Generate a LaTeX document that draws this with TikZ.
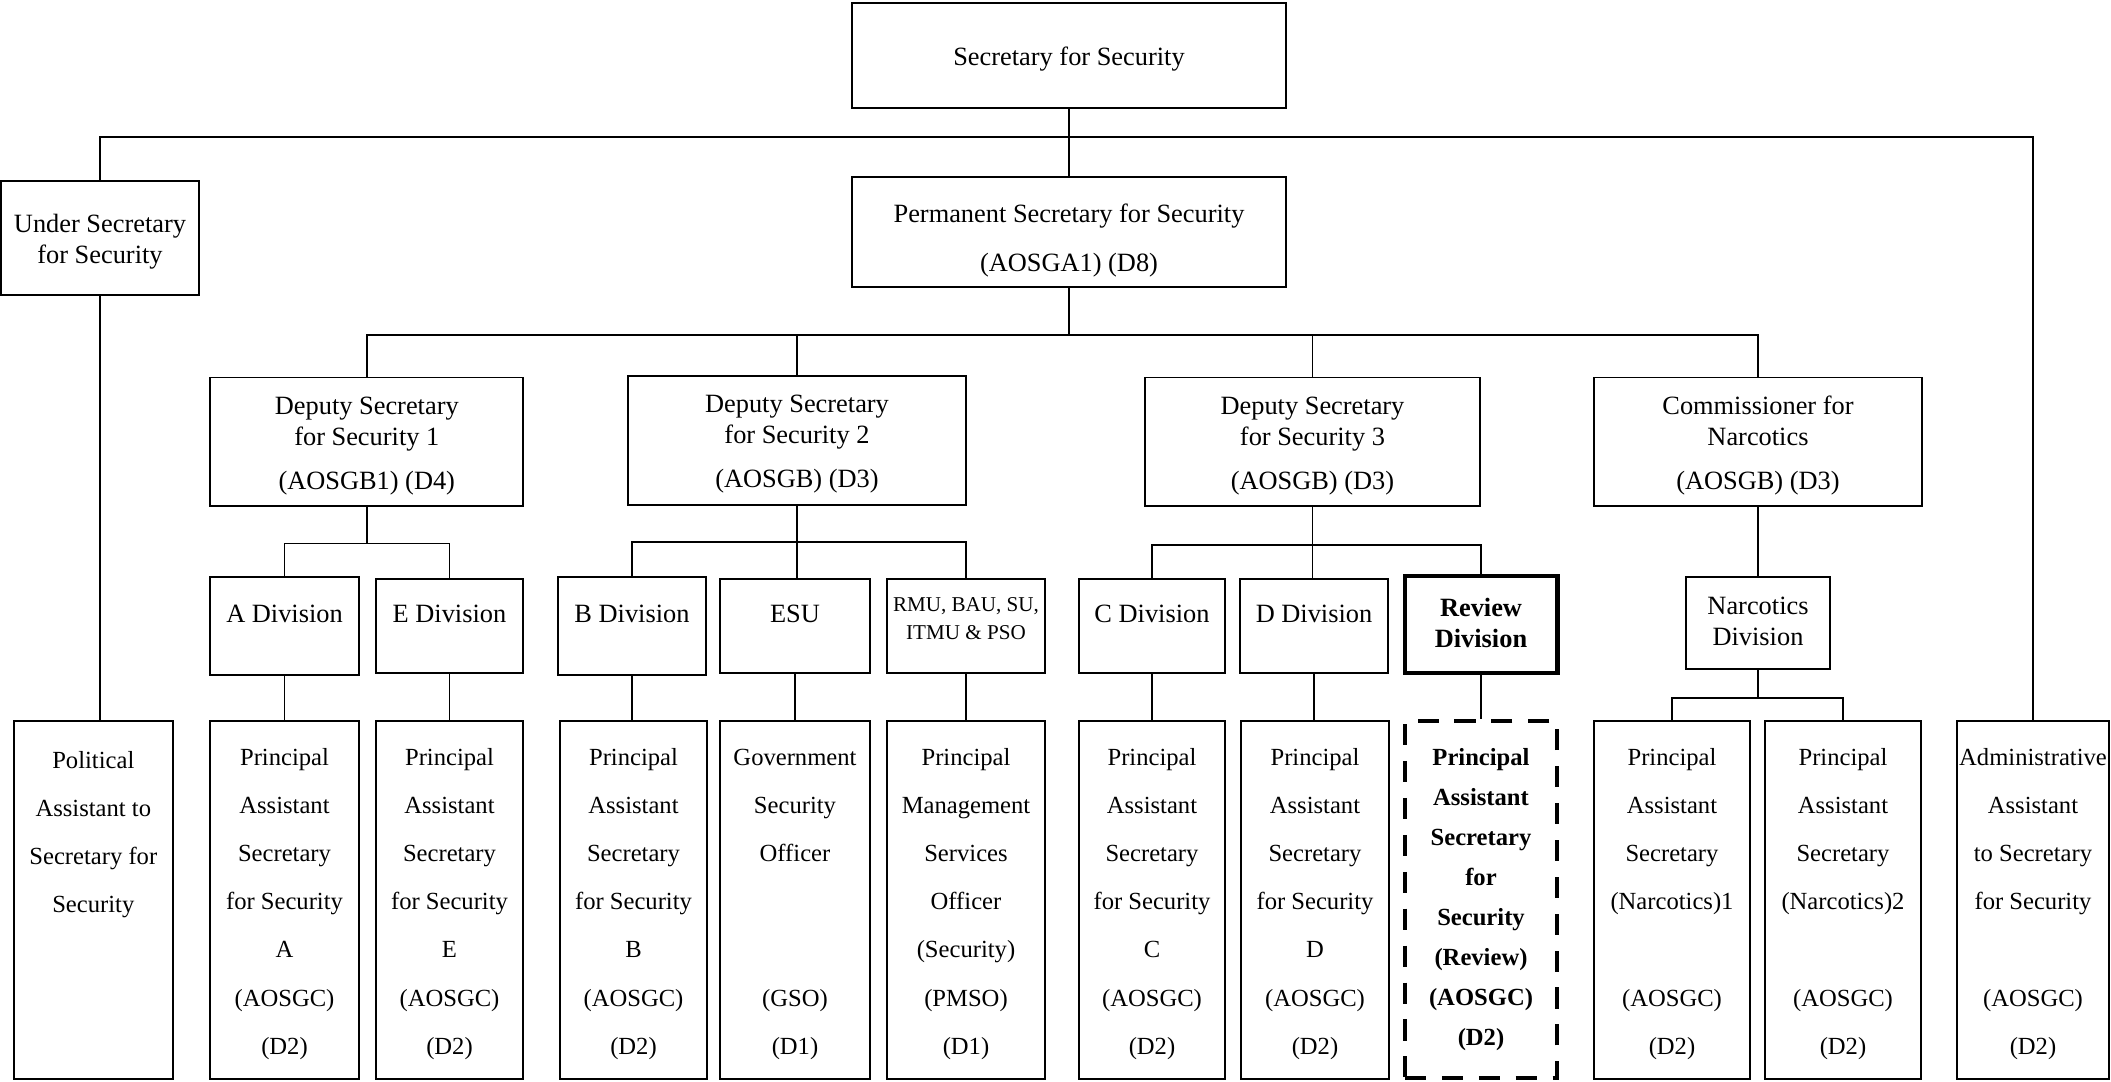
\documentclass[tikz,border=0pt]{standalone}
\usepackage{fontspec}
\setmainfont{Liberation Serif}
\usetikzlibrary{calc}
\tikzset{
  box/.style={draw, line width=0.55pt, inner sep=0pt, align=center, font=\fontsize{7.5}{8.8}\selectfont},
  post/.style={draw, line width=0.55pt, inner sep=0pt, align=center, minimum height=35.75mm, font=\fontsize{7}{13.66}\selectfont},
  divone/.style={text height=5.3pt, text depth=7.2pt},
  link/.style={line width=0.55pt},
}
\newcommand{\tup}[1][7.2pt]{\rule{0pt}{#1}} %文字を下げる支柱
\newcommand{\tdn}[1]{\rule[-#1]{0pt}{#1}} %文字を上げる支柱
\newcommand{\busline}[4]{
\draw[link] (#1.south) -- (#1.south |- #2); %親から横線まで
\draw[link] (#3.north) |- (#2 -| #4.north) -- (#4.north); %横線と両端の子
}

\begin{document}
\begin{tikzpicture}[x=0.01cm, y=-0.01cm]
\useasboundingbox (0,0) rectangle (2111,1082);

%最上段
\node[box, minimum width=43.4mm, minimum height=10.5mm] (sec) at (1069,55.5) {\tup Secretary for Security};
\node[box, minimum width=43.4mm, minimum height=11mm] (perm) at (1069,232) {\tup[10.3pt]Permanent Secretary for Security\\[5.1pt](AOSGA1) (D8)};
\node[box, minimum width=19.7mm, minimum height=11.4mm] (under) at (100,238) {\tup Under Secretary\\for Security};

%副長官
\node[box, minimum width=31.25mm, minimum height=12.85mm] (ds1) at (366.8,441.8) {\tup Deputy Secretary\\for Security 1\\[3.7pt](AOSGB1) (D4)};
\node[box, minimum width=33.7mm, minimum height=12.9mm] (ds2) at (797,440.5) {\tup Deputy Secretary\\for Security 2\\[3.7pt](AOSGB) (D3)};
\node[box, minimum width=33.5mm, minimum height=12.85mm] (ds3) at (1312.5,441.8) {\tup Deputy Secretary\\for Security 3\\[3.7pt](AOSGB) (D3)};
\node[box, minimum width=32.85mm, minimum height=12.85mm] (comm) at (1758,441.8) {\tup Commissioner for\\Narcotics\\[3.7pt](AOSGB) (D3)};

%部門
\node[box, divone, minimum width=14.8mm, minimum height=9.8mm] (adiv) at (284.5,626) {A Division};
\node[box, divone, minimum width=14.7mm, minimum height=9.4mm] (ediv) at (449.5,626) {E Division};
\node[box, divone, minimum width=14.8mm, minimum height=9.8mm] (bdiv) at (632,626) {B Division};
\node[box, divone, minimum width=14.95mm, minimum height=9.4mm] (esu) at (795,626) {ESU};
\node[box, minimum width=15.75mm, minimum height=9.4mm, font=\fontsize{6}{7.85}\selectfont] (rmu) at (966,626) {RMU, BAU, SU,\\ITMU \& PSO\tdn{4.3pt}};
\node[box, divone, minimum width=14.65mm, minimum height=9.4mm] (cdiv) at (1152,626) {C Division};
\node[box, divone, minimum width=14.75mm, minimum height=9.4mm] (ddiv) at (1314,626) {D Division};
\node[box, line width=1.4pt, minimum width=15.2mm, minimum height=9.7mm, font=\fontsize{7.5}{8.8}\selectfont\bfseries] (rdiv) at (1481,624.5) {Review\\Division\tdn{1.2pt}};
\node[box, minimum width=14.35mm, minimum height=9.15mm] (ndiv) at (1758,623) {Narcotics\\Division\tdn{1.2pt}};

%最下段
\node[post, minimum width=15.86mm] (polit) at (93.3,900.25) {\tup[7pt]Political\\Assistant to\\Secretary for\\Security\\\mbox{}\\\mbox{}\\\mbox{}};
\node[post, minimum width=14.8mm] (pasa) at (284.5,900.25) {\tup[7pt]Principal\\Assistant\\Secretary\\for Security\\A\\(AOSGC)\\(D2)};
\node[post, minimum width=14.7mm] (pase) at (449.5,900.25) {\tup[7pt]Principal\\Assistant\\Secretary\\for Security\\E\\(AOSGC)\\(D2)};
\node[post, minimum width=14.7mm] (pasb) at (633.5,900.25) {\tup[7pt]Principal\\Assistant\\Secretary\\for Security\\B\\(AOSGC)\\(D2)};
\node[post, minimum width=14.95mm] (gso) at (795,900.25) {\tup[7pt]Government\\Security\\Officer\\\mbox{}\\\mbox{}\\(GSO)\\(D1)};
\node[post, minimum width=15.75mm] (pmso) at (966,900.25) {\tup[7pt]Principal\\Management\\Services\\Officer\\(Security)\\(PMSO)\\(D1)};
\node[post, minimum width=14.65mm] (pasc) at (1152,900.25) {\tup[7pt]Principal\\Assistant\\Secretary\\for Security\\C\\(AOSGC)\\(D2)};
\node[post, minimum width=14.75mm] (pasd) at (1315,900.25) {\tup[7pt]Principal\\Assistant\\Secretary\\for Security\\D\\(AOSGC)\\(D2)};
\node[post, line width=1.2pt, dash pattern=on 6pt off 4.5pt, minimum width=15.2mm, minimum height=35.7mm, font=\fontsize{7}{11.38}\selectfont\bfseries] (pasr) at (1481,899.4) {Principal\\Assistant\\Secretary\\for\\Security\\(Review)\\(AOSGC)\\(D2)};
\node[post, minimum width=15.57mm] (pasn1) at (1672,900.25) {\tup[7pt]Principal\\Assistant\\Secretary\\(Narcotics)1\\\mbox{}\\(AOSGC)\\(D2)};
\node[post, minimum width=15.6mm] (pasn2) at (1843,900.25) {\tup[7pt]Principal\\Assistant\\Secretary\\(Narcotics)2\\\mbox{}\\(AOSGC)\\(D2)};
\node[post, minimum width=15.2mm] (admin) at (2033,900.25) {\tup[7pt]Administrative\\Assistant\\to Secretary\\for Security\\\mbox{}\\(AOSGC)\\(D2)};

%横線の高さ
\coordinate (bus1) at (0,137);
\coordinate (bus2) at (0,335);
\coordinate (busA) at (0,543.5);
\coordinate (busB) at (0,542);
\coordinate (busC) at (0,545);
\coordinate (busN) at (0,698);

%長官から
\draw[link] (sec.south) -- (perm.north);
\draw[link] (under.north) |- (bus1 -| admin.north) -- (admin.north);
\draw[link] (under.south) -- (under.south |- polit.north);

%常任秘書から
\busline{perm}{bus2}{ds1}{comm}
\draw[link] (ds2.north) -- (ds2.north |- bus2);
\draw[link] (ds3.north) -- (ds3.north |- bus2);

%各副長官の部門
\busline{ds1}{busA}{adiv}{ediv}
\busline{ds2}{busB}{bdiv}{rmu}
\draw[link] (ds2.south) -- (ds2.south |- esu.north);
\busline{ds3}{busC}{cdiv}{rdiv}
\draw[link] (ds3.south) -- (ds3.south |- ddiv.north);
\draw[link] (comm.south) -- (ndiv.north);
\busline{ndiv}{busN}{pasn1}{pasn2}

%部門から下段へ
\draw[link] (adiv.south) -- (adiv.south |- pasa.north);
\draw[link] (ediv.south) -- (ediv.south |- pase.north);
\draw[link] (bdiv.south) -- (bdiv.south |- pasb.north);
\draw[link] (esu.south) -- (esu.south |- gso.north);
\draw[link] (rmu.south) -- (rmu.south |- pmso.north);
\draw[link] (cdiv.south) -- (cdiv.south |- pasc.north);
\draw[link] (ddiv.south) -- (ddiv.south |- pasd.north);
\draw[link] (rdiv.south) -- (rdiv.south |- pasr.north);
\end{tikzpicture}
\end{document}
